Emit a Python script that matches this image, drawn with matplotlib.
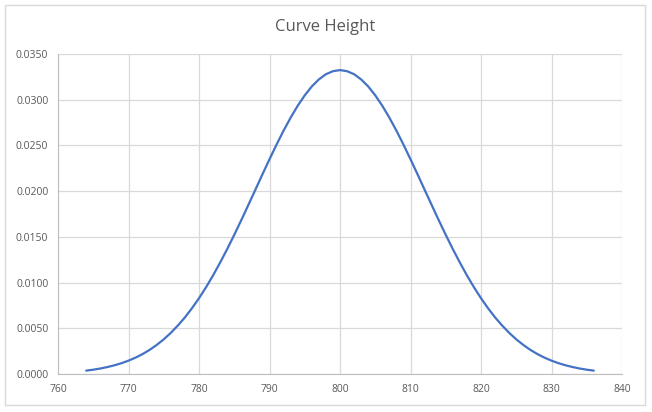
import matplotlib
matplotlib.use("Agg")
import matplotlib.pyplot as plt
from matplotlib.patches import Rectangle

# values, one per unit of x
x_vals = list(range(764, 837))
heights = [0.00037, 0.00047, 0.00060, 0.00076, 0.00095, 0.00118, 0.00146,
           0.00179, 0.00218, 0.00264, 0.00318, 0.00379, 0.00450, 0.00530,
           0.00619, 0.00719, 0.00829, 0.00949, 0.01079, 0.01219, 0.01367,
           0.01522, 0.01683, 0.01849, 0.02016, 0.02184, 0.02349, 0.02509,
           0.02662, 0.02804, 0.02934, 0.03048, 0.03145, 0.03222, 0.03279,
           0.03312, 0.03324, 0.03312, 0.03279, 0.03222, 0.03145, 0.03048,
           0.02934, 0.02804, 0.02662, 0.02509, 0.02349, 0.02184, 0.02016,
           0.01849, 0.01683, 0.01522, 0.01367, 0.01219, 0.01079, 0.00949,
           0.00829, 0.00719, 0.00619, 0.00530, 0.00450, 0.00379, 0.00318,
           0.00264, 0.00218, 0.00179, 0.00146, 0.00118, 0.00095, 0.00076,
           0.00060, 0.00047, 0.00037]
x_ticks = [760, 770, 780, 790, 800, 810, 820, 830, 840]
y_ticks = [0.0, 0.005, 0.010, 0.015, 0.020, 0.025, 0.030, 0.035]

plt.rcParams['font.family'] = ['Open Sans', 'DejaVu Sans']
grey_txt = '#595959'
grid_c = '#d9d9d9'

fig = plt.figure(figsize=(6.52, 4.12), dpi=100)
fig.patches.append(Rectangle((5 / 652, 7 / 412), 640 / 652, 400 / 412,
                             transform=fig.transFigure, fill=False,
                             edgecolor=grid_c, linewidth=1))
ax = fig.add_axes([58 / 652, 38 / 412, 564 / 652, 320 / 412])

ax.plot(x_vals, heights, color='#4472C4', linewidth=1.6,
        solid_capstyle='round', solid_joinstyle='round')

ax.set_xlim(760, 840)
ax.set_ylim(0, 0.035)
ax.set_xticks(x_ticks)
ax.set_yticks(y_ticks)
ax.set_yticklabels([f"{v:.4f}" for v in y_ticks])
ax.grid(True, color=grid_c, linewidth=0.9)
ax.set_axisbelow(True)
for s in ['top', 'right']:
    ax.spines[s].set_visible(False)
for s in ['left', 'bottom']:
    ax.spines[s].set_color('#bfbfbf')
ax.tick_params(length=0, labelsize=7.5, colors=grey_txt, pad=7)

fig.text(0.498, 0.935, "Curve Height", ha='center', va='center',
         fontsize=12, color=grey_txt)

fig.savefig("out.png", dpi=100)
